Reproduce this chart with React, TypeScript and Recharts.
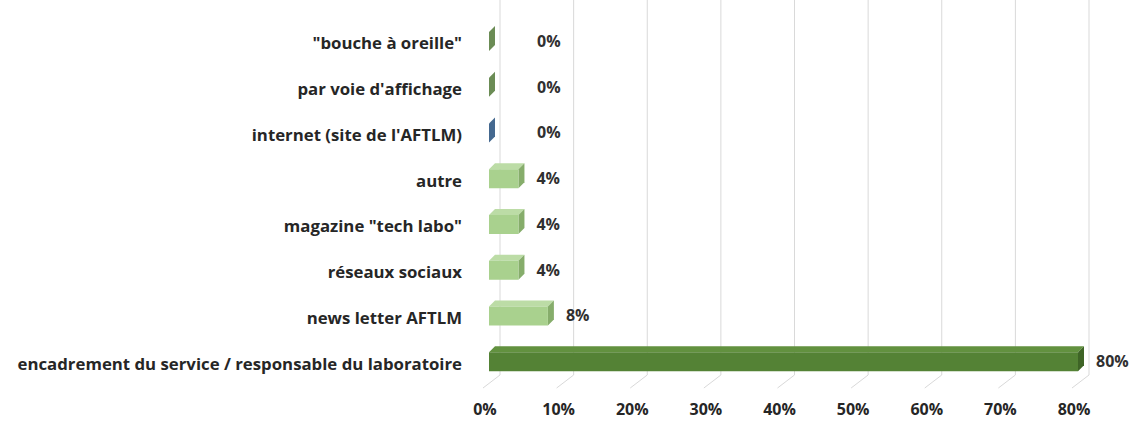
import React from 'react';
import { BarChart, Bar, XAxis, YAxis, CartesianGrid, Cell, LabelList } from 'recharts';

const categories = [
  '"bouche à oreille"',
  "par voie d'affichage",
  "internet (site de l'AFTLM)",
  'autre',
  'magazine "tech labo"',
  'réseaux sociaux',
  'news letter AFTLM',
  'encadrement du service / responsable du laboratoire',
];
const values = [0, 0, 0, 4, 4, 4, 8, 80];
const xTicks = [0, 10, 20, 30, 40, 50, 60, 70, 80];

const palette = [
  { front: '#7a9a63', top: '#8fb075', side: '#6b8c55' },
  { front: '#7a9a63', top: '#8fb075', side: '#6b8c55' },
  { front: '#4f76a0', top: '#6a8db5', side: '#44688f' },
  { front: '#a9d18e', top: '#bcdca6', side: '#86ad6b' },
  { front: '#a9d18e', top: '#bcdca6', side: '#86ad6b' },
  { front: '#a9d18e', top: '#bcdca6', side: '#86ad6b' },
  { front: '#a9d18e', top: '#bcdca6', side: '#86ad6b' },
  { front: '#548235', top: '#62913f', side: '#3e6426' },
];

const data = categories.map((c, i) => ({ name: c, value: values[i], idx: i }));

const FONT = "'Open Sans', sans-serif";
const D = 6;

const Bar3D = (props: any) => {
  const { x, y, width, height, payload } = props;
  const c = palette[payload.idx];
  const w = Math.max(0, width);
  return (
    <g>
      <polygon
        points={`${x},${y} ${x + D},${y - D} ${x + w + D},${y - D} ${x + w},${y}`}
        fill={c.top}
      />
      <polygon
        points={`${x + w},${y} ${x + w + D},${y - D} ${x + w + D},${y + height - D} ${x + w},${y + height}`}
        fill={c.side}
      />
      {w > 0 && <rect x={x} y={y} width={w} height={height} fill={c.front} />}
    </g>
  );
};

const ValueLabel = (props: any) => {
  const { x, y, width, height, value } = props;
  const off = value === 0 ? 42 : 12;
  return (
    <text
      x={x + width + D + off}
      y={y + height / 2 + 1}
      dominantBaseline="middle"
      fontFamily={FONT}
      fontWeight={700}
      fontSize={16}
      fill="#303030"
    >
      {value}%
    </text>
  );
};

const YTick = (props: any) => {
  const { y, payload } = props;
  return (
    <text
      x={462}
      y={y + 3}
      textAnchor="end"
      dominantBaseline="middle"
      fontFamily={FONT}
      fontWeight={700}
      fontSize={16.8}
      fill="#262626"
    >
      {payload.value}
    </text>
  );
};

const XTick = (props: any) => {
  const { x, y, payload } = props;
  return (
    <text
      x={x - 4}
      y={y + 22}
      textAnchor="middle"
      fontFamily={FONT}
      fontWeight={700}
      fontSize={16}
      fill="#262626"
    >
      {payload.value}%
    </text>
  );
};

const GridLine = (props: any) => {
  const { x1, y1, y2 } = props;
  return (
    <path
      key={props.key ?? x1}
      d={`M${x1 + 11},${y1 - 19} L${x1 + 11},${y2 - 10} L${x1 - 6},${y2 + 3}`}
      stroke="#d9d9d9"
      strokeWidth={1}
      fill="none"
    />
  );
};

export default function App() {
  return (
    <div style={{ position: 'fixed', left: 0, top: 0, width: 1136, height: 423, background: '#fff' }}>
      <BarChart
        width={1136}
        height={423}
        data={data}
        layout="vertical"
        margin={{ top: 19, right: 58, bottom: 0, left: 0 }}
        barCategoryGap={0}
      >
        <CartesianGrid horizontal={false} vertical={GridLine as any} />
        <XAxis
          type="number"
          domain={[0, 80]}
          ticks={xTicks}
          axisLine={false}
          tickLine={false}
          height={38}
          tick={<XTick />}
          interval={0}
        />
        <YAxis
          type="category"
          dataKey="name"
          width={489}
          axisLine={false}
          tickLine={false}
          tick={<YTick />}
          interval={0}
        />
        <Bar dataKey="value" barSize={19} shape={<Bar3D />} isAnimationActive={false}>
          {data.map((d) => (
            <Cell key={d.idx} fill={palette[d.idx].front} />
          ))}
          <LabelList dataKey="value" content={<ValueLabel />} />
        </Bar>
      </BarChart>
    </div>
  );
}
